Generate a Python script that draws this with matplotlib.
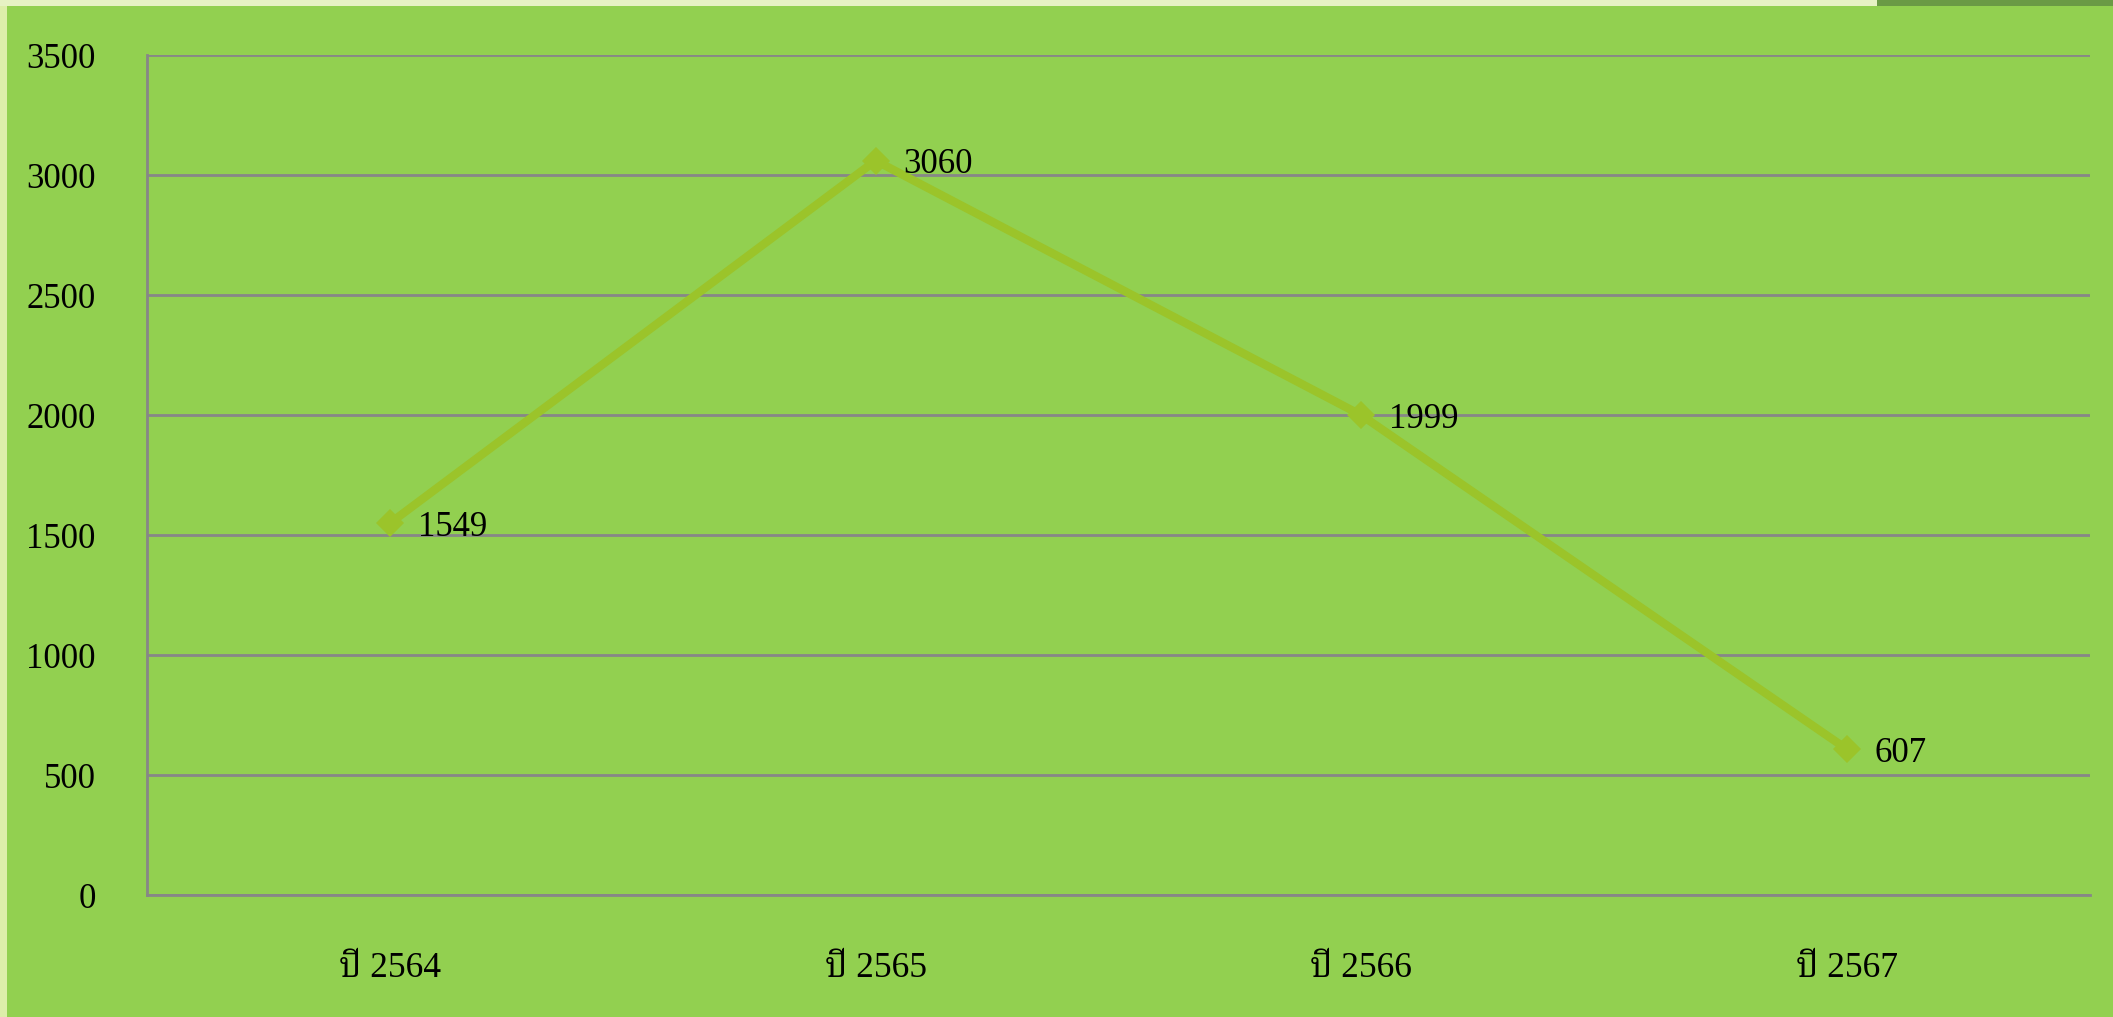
import matplotlib
matplotlib.use('Agg')
import matplotlib.pyplot as plt
from matplotlib.patches import Rectangle

# ข้อมูล
years = ['ปี 2564', 'ปี 2565', 'ปี 2566', 'ปี 2567']
values = [1549, 3060, 1999, 607]
yticks = [0, 500, 1000, 1500, 2000, 2500, 3000, 3500]

plt.rcParams['font.family'] = ['Liberation Serif', 'Noto Serif Thai', 'FreeSerif', 'DejaVu Sans']

bg = '#92D050'
grid_c = '#878787'
line_c = '#9BC42A'

fig = plt.figure(figsize=(21.13, 10.17), dpi=100, facecolor=bg)
# light border strips
fig.patches.append(Rectangle((0, 0), 7 / 2113, 1, transform=fig.transFigure,
                             facecolor='#DDEEAA', edgecolor='none', zorder=0))
fig.patches.append(Rectangle((0, 1 - 6 / 1017), 1877 / 2113, 6 / 1017, transform=fig.transFigure,
                             facecolor='#E6F2C4', edgecolor='none', zorder=0))
fig.patches.append(Rectangle((1877 / 2113, 1 - 6 / 1017), 1 - 1877 / 2113, 6 / 1017,
                             transform=fig.transFigure, facecolor='#6A9A45', edgecolor='none', zorder=0))

ax = fig.add_axes([147 / 2113, 122 / 1017, (2090 - 147) / 2113, (895 - 55) / 1017])
ax.set_facecolor(bg)

x = list(range(len(years)))
ax.plot(x, values, color=line_c, linewidth=6, marker='D', markersize=14,
        markeredgewidth=0, zorder=3)
for xi, v in zip(x, values):
    ax.annotate(str(v), (xi, v), xytext=(20, -3), textcoords='offset points',
                ha='left', va='center', fontsize=25, color='black')

ax.set_xlim(-0.5, len(years) - 0.5)
ax.set_ylim(0, 3500)
ax.set_yticks(yticks)
ax.set_xticks(x)
ax.set_xticklabels(years, fontsize=25.5)
ax.yaxis.grid(True, color=grid_c, linewidth=2)
ax.set_axisbelow(True)
ax.tick_params(axis='both', length=0)
ax.tick_params(axis='y', pad=37, labelsize=25)
ax.tick_params(axis='x', pad=41)
for s in ['top', 'right']:
    ax.spines[s].set_visible(False)
for s in ['left', 'bottom']:
    ax.spines[s].set_color(grid_c)
    ax.spines[s].set_linewidth(2)

fig.savefig('out.png', dpi=100, facecolor=bg)
